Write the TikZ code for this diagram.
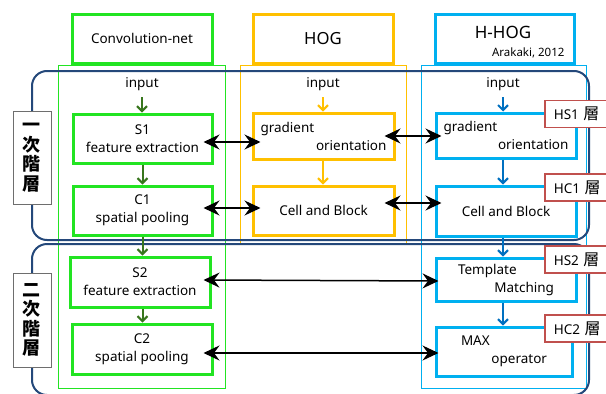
\documentclass[tikz,border=0pt]{standalone}
\usepackage{fontspec}
\setmainfont{Noto Sans}
\newfontfamily\jpfont{Noto Sans CJK JP}
\usetikzlibrary{arrows.meta,calc}

\definecolor{cnnbox}{RGB}{34,228,34}
\definecolor{cnnarrow}{RGB}{56,118,29}
\definecolor{hogbox}{RGB}{255,192,0}
\definecolor{hhogbox}{RGB}{0,176,240}
\definecolor{hhogarrow}{RGB}{0,112,192}
\definecolor{layernavy}{RGB}{36,72,122}
\definecolor{layergray}{RGB}{110,110,110}
\definecolor{tagred}{RGB}{192,80,77}

\newcommand\pushright{\hskip0pt plus1fill\relax}
\newcommand\sou{{\jpfont\fontsize{16}{18}\selectfont 層}}

\begin{document}
\begin{tikzpicture}[x=1pt,y=-1pt,
  txt/.style={font=\fontsize{13.5}{18}\selectfont},
  stage/.style={draw, line width=3pt, inner sep=0pt, align=center, txt},
  gbox/.style={stage, draw=cnnbox},
  obox/.style={stage, draw=hogbox},
  bbox/.style={stage, draw=hhogbox},
  title/.style={draw, line width=3pt, minimum width=140pt, minimum height=49pt, inner sep=0pt},
  column/.style={line width=1pt},
  layer/.style={draw=layernavy, line width=2pt, rounded corners=15pt},
  layerlabel/.style={draw=layergray, line width=1pt, fill=white, minimum width=38pt,
    inner sep=0pt, align=center, font=\jpfont\bfseries\fontsize{18}{19.5}\selectfont},
  tag/.style={draw=tagred, line width=1.5pt, fill=white, anchor=west, minimum height=27pt,
    text width=62pt, inner xsep=9pt, inner ysep=0pt, align=left, txt},
  flow/.style={line width=2pt, -{Straight Barb[length=5pt,width=10pt]}},
  link/.style={black, line width=1.5pt,
    {Stealth[length=16pt,width=15pt,inset=5.5pt]}-{Stealth[length=16pt,width=15pt,inset=5.5pt]}}
]
\clip (0,0) rectangle (606,394);
\fill[white] (0,0) rectangle (606,394);

% column frames
\draw[column, cnnbox] (58,65) rectangle (225,388);
\draw[column, hogbox] (240,65) rectangle (406,243);
\draw[column, hhogbox] (421,65) rectangle (586,388);

% layer frames
\draw[layer] (32,71) rectangle (589,240);
\draw[layer] (32,244) rectangle (589,395);

% column titles
\node[title, draw=cnnbox, txt] (tC) at (142,38.5) {Convolution-net};
\node[title, draw=hogbox, font=\fontsize{16.7}{20}\selectfont] (tH) at (323,38.5) {HOG};
\node[title, draw=hhogbox, minimum width=139pt] (tB) at (504.5,38.5) {};
\node[font=\fontsize{17}{20}\selectfont] (tBname) at (503,32) {H-HOG};
\node[font=\fontsize{11.5}{13}\selectfont, anchor=east] (tBref) at (568,53) {Arakaki, 2012};

% inputs
\node[txt] (gin) at (142,84) {input};
\node[txt] (oin) at (323,84) {input};
\node[txt] (bin) at (503,84) {input};

% Convolution-net stages
\node[gbox, minimum width=139pt, minimum height=49pt] (S1) at (142.5,138.5) {S1\\feature extraction};
\node[gbox, minimum width=139pt, minimum height=49pt] (C1) at (142.5,210.5) {C1\\spatial pooling};
\node[gbox, minimum width=140pt, minimum height=50pt] (S2) at (140,282) {S2\\feature extraction};
\node[gbox, minimum width=140pt, minimum height=50pt] (C2) at (142,349) {C2\\spatial pooling};

% HOG stages
\node[obox, minimum width=141pt, minimum height=46pt, text width=126pt, align=left] (OG) at (323.5,136) {gradient\\\pushright orientation};
\node[obox, minimum width=141pt, minimum height=49pt] (OC) at (323.5,210.5) {Cell and Block};

% H-HOG stages
\node[bbox, minimum width=140pt, minimum height=45pt, text width=125pt, align=left] (BG) at (506,135.5) {gradient\\\pushright orientation};
\node[bbox, minimum width=140pt, minimum height=50pt] (BC) at (506,211) {Cell and Block};
\node[bbox, minimum width=140pt, minimum height=43pt, text width=96pt, align=left] (BT) at (506,279.5) {Template\\\pushright Matching};
\node[bbox, minimum width=136pt, minimum height=49pt, text width=86pt, align=left] (BM) at (504,351.5) {MAX\\\pushright operator};

% layer tags on the right
\node[tag] (hs1) at (544,114) {HS1 \sou};
\node[tag] (hc1) at (544,187.5) {HC1 \sou};
\node[tag] (hs2) at (544,259.5) {HS2 \sou};
\node[tag] (hc2) at (544,328.5) {HC2 \sou};

% layer labels on the left
\node[layerlabel, minimum height=93pt] (L1) at (32,157.5) {一\\次\\階\\層};
\node[layerlabel, minimum height=94pt] (L2) at (32,320) {二\\次\\階\\層};

% processing flow inside each column
\draw[flow, cnnarrow, shorten <=3pt] (gin.south) -- (gin.south |- S1.north);
\draw[flow, cnnarrow] (S1.south) -- (C1.north);
\draw[flow, cnnarrow] (C1.south) -- (C1.south |- S2.north);
\draw[flow, cnnarrow] (S2.south -| C1.south) -- (C1.south |- C2.north);

\draw[flow, hogbox, shorten <=3pt] (oin.south) -- (oin.south |- OG.north);
\draw[flow, hogbox] (OG.south -| oin.south) -- (oin.south |- OC.north);

\draw[flow, hhogarrow, shorten <=3pt] (bin.south) -- (bin.south |- BG.north);
\draw[flow, hhogarrow] (BG.south -| bin.south) -- (bin.south |- BC.north);
\draw[flow, hhogarrow] (BC.south -| bin.south) -- (bin.south |- BT.north);
\draw[flow, hhogarrow] (BT.south -| bin.south) -- (bin.south |- BM.north);

% correspondences between the models
\draw[link] ($(S1.east)+(-10,3.5)$) -- ($(OG.west)+(9,6)$);
\draw[link] ($(OG.east)+(-11,0)$) -- ($(BG.west)+(7,0.5)$);
\draw[link] ($(C1.east)+(-10,-2.5)$) -- ($(OC.west)+(9,-2.5)$);
\draw[link] ($(OC.east)+(-11,-7.5)$) -- ($(BC.west)+(7,-8)$);
\draw[link] ($(S2.east)+(-8,-2)$) -- ($(BT.west)+(4,1.5)$);
\draw[link] ($(C2.east)+(-10,4)$) -- ($(BM.west)+(4,1.5)$);
\end{tikzpicture}
\end{document}
